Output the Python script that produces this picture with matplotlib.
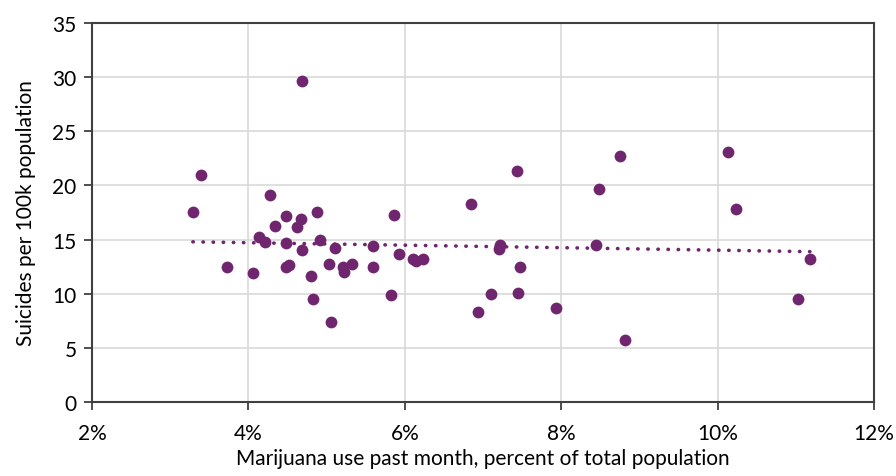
import numpy as np
import matplotlib
matplotlib.use("Agg")
import matplotlib.pyplot as plt
from matplotlib.ticker import FuncFormatter

# marijuana use past month (%) and suicides per 100k
use_pct = [3.29, 3.40, 3.73, 4.06, 4.13, 4.21, 4.27, 4.34, 4.48, 4.48,
           4.48, 4.52, 4.69, 4.62, 4.67, 4.69, 4.80, 4.82, 4.88, 4.92,
           5.05, 5.03, 5.11, 5.21, 5.22, 5.32, 5.59, 5.59, 5.82, 5.86,
           5.93, 6.11, 6.14, 6.23, 6.85, 7.43, 7.22, 7.20, 7.47, 7.10,
           7.45, 6.93, 7.93, 8.75, 8.48, 8.44, 8.81, 10.13, 10.23, 11.18,
           11.03]
suicides = [17.55, 21.0, 12.45, 11.9, 15.25, 14.8, 19.1, 16.3, 17.2, 14.7,
            12.45, 12.65, 29.6, 16.2, 16.9, 14.0, 11.6, 9.55, 17.55, 14.95,
            7.35, 12.75, 14.25, 12.45, 12.05, 12.75, 14.4, 12.45, 9.85, 17.3,
            13.7, 13.2, 13.0, 13.2, 18.3, 21.3, 14.5, 14.1, 12.45, 9.95,
            10.1, 8.3, 8.7, 22.7, 19.7, 14.5, 5.7, 23.1, 17.85, 13.2,
            9.55]

purple = "#70266f"
dark = "#404040"
font = ["Lato", "DejaVu Sans"]

fig = plt.figure(figsize=(8.96, 4.77), dpi=100)
ax = fig.add_axes([0.1027, 0.155, 0.8727, 0.7947])

ax.scatter(use_pct, suicides, s=72, color=purple, zorder=3, linewidths=0)

# linear trendline
slope, icpt = np.polyfit(use_pct, suicides, 1)
xs = np.array([min(use_pct), max(use_pct)])
ax.plot(xs, slope * xs + icpt, color=purple, linestyle=(0, (0.1, 2.7)),
        linewidth=2.6, dash_capstyle="round", zorder=2)

ax.set_xlim(2, 12)
ax.set_ylim(0, 35)
ax.set_xticks(range(2, 13, 2))
ax.set_yticks(range(0, 36, 5))
ax.xaxis.set_major_formatter(FuncFormatter(lambda v, p: "%d%%" % v))
ax.grid(True, color="#d9d9d9", linewidth=1.2, zorder=0)
ax.set_axisbelow(True)

for sp in ax.spines.values():
    sp.set_color(dark)
    sp.set_linewidth(1.5)
ax.tick_params(direction="out", length=6, width=1.3, color=dark,
               labelsize=15, labelcolor="#000000")
ax.tick_params(axis="x", pad=9)
ax.tick_params(axis="y", pad=5)
for lab in ax.get_xticklabels() + ax.get_yticklabels():
    lab.set_family(font)

ax.set_xlabel("Marijuana use past month, percent of total population",
              fontsize=15, family=font, labelpad=4)
ax.set_ylabel("Suicides per 100k population", fontsize=15, family=font,
              labelpad=12)

fig.savefig("out.png", dpi=100)
